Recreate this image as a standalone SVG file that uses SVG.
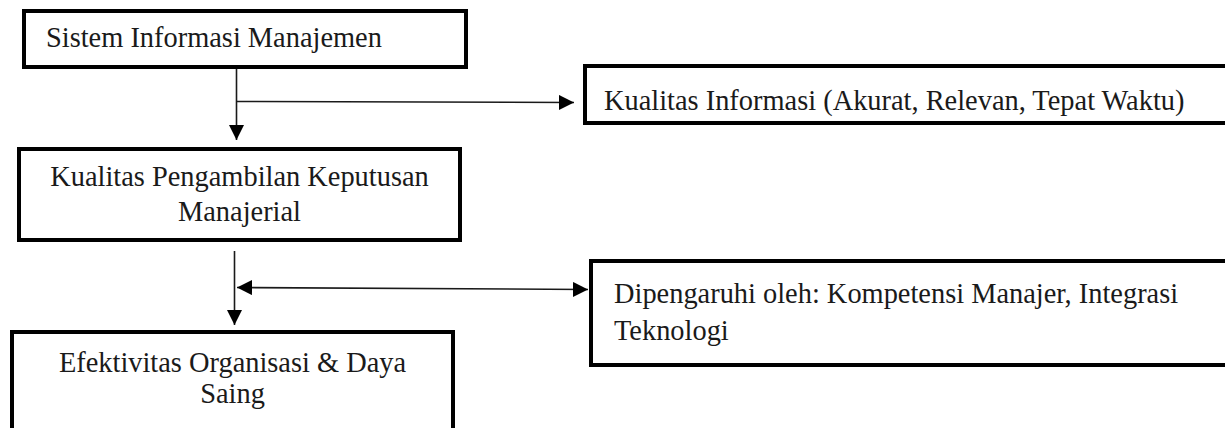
<svg xmlns="http://www.w3.org/2000/svg" width="1225" height="428" viewBox="0 0 1225 428">
<style>
.box{fill:#ffffff;stroke:#000000;stroke-width:4}
.t{font-family:"Liberation Serif","Times New Roman",serif;font-size:28.4px;fill:#1a1a1a}
.c{text-anchor:middle}
.ln{fill:none;stroke:#1a1a1a;stroke-width:1.6}
</style>
<defs>
<marker id="ah" markerUnits="userSpaceOnUse" markerWidth="16" markerHeight="16" refX="15" refY="7.5" orient="auto-start-reverse" viewBox="0 0 16 16">
<path d="M0,0 L15,7.5 L0,15 z" fill="#000000"/>
</marker>
</defs>
<rect width="1225" height="428" fill="#ffffff"/>
<g id="connectors">
<line class="ln" x1="236.5" y1="69" x2="236.5" y2="140" marker-end="url(#ah)"/>
<line class="ln" x1="236.5" y1="101.5" x2="574" y2="102.5" marker-end="url(#ah)"/>
<line class="ln" x1="234.5" y1="251" x2="234.5" y2="325" marker-end="url(#ah)"/>
<line class="ln" x1="237" y1="287.5" x2="588" y2="289.5" marker-start="url(#ah)" marker-end="url(#ah)"/>
</g>
<g id="n1">
<rect class="box" x="24" y="11" width="442" height="56"/>
<text class="t" x="46" y="47">Sistem Informasi Manajemen</text>
</g>
<g id="n2">
<rect class="box" x="585" y="66" width="660" height="57"/>
<text class="t" x="604" y="110">Kualitas Informasi (Akurat, Relevan, Tepat Waktu)</text>
</g>
<g id="n3">
<rect class="box" x="19" y="149" width="441" height="91"/>
<text class="t c" x="239.5" y="186">Kualitas Pengambilan Keputusan</text>
<text class="t c" x="239.5" y="221">Manajerial</text>
</g>
<g id="n4">
<rect class="box" x="591" y="261" width="654" height="104"/>
<text class="t" x="614" y="303">Dipengaruhi oleh: Kompetensi Manajer, Integrasi</text>
<text class="t" x="614" y="340">Teknologi</text>
</g>
<g id="n5">
<rect class="box" x="12" y="332" width="441" height="110"/>
<text class="t c" x="232.5" y="372">Efektivitas Organisasi &amp; Daya</text>
<text class="t c" x="232.5" y="403">Saing</text>
</g>
</svg>
